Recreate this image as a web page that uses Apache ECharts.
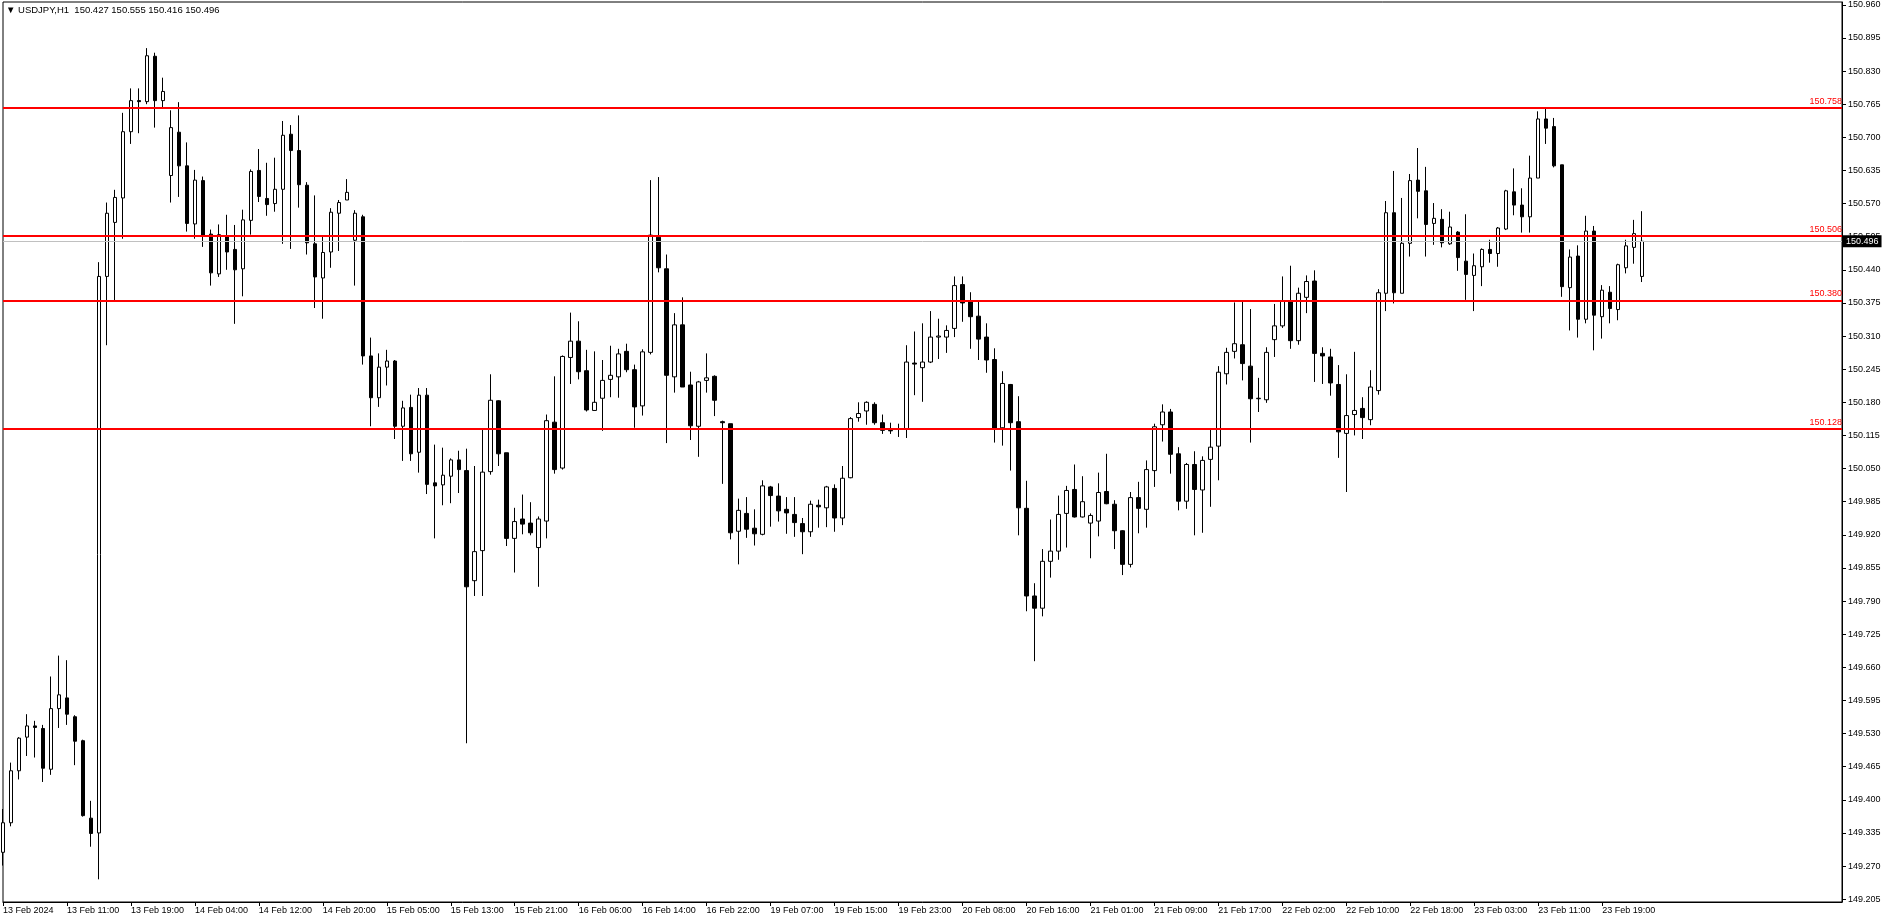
<!DOCTYPE html>
<html>
<head>
<meta charset="utf-8">
<script src="https://cdn.jsdelivr.net/npm/echarts@6/dist/echarts.min.js"></script>
<style>
html,body{margin:0;padding:0;background:#ffffff;}
#chart{width:1888px;height:923px;}
</style>
</head>
<body>
<div id="chart"></div>
<script>
// ---------- DATA ----------
const symbolTitle = '\u25BC USDJPY,H1  150.427 150.555 150.416 150.496';

const timeLabels = ['13 Feb 2024','13 Feb 11:00','13 Feb 19:00','14 Feb 04:00','14 Feb 12:00','14 Feb 20:00',
  '15 Feb 05:00','15 Feb 13:00','15 Feb 21:00','16 Feb 06:00','16 Feb 14:00','16 Feb 22:00',
  '19 Feb 07:00','19 Feb 15:00','19 Feb 23:00','20 Feb 08:00','20 Feb 16:00','21 Feb 01:00',
  '21 Feb 09:00','21 Feb 17:00','22 Feb 02:00','22 Feb 10:00','22 Feb 18:00','23 Feb 03:00',
  '23 Feb 11:00','23 Feb 19:00'];

const opens = [
149.297,149.355,149.457,149.523,149.545,149.540,149.460,149.579,149.600,149.563,
149.516,149.364,149.335,150.427,150.533,150.581,150.711,150.772,150.770,150.859,
150.772,150.625,150.710,150.644,150.530,150.615,150.510,150.432,150.507,150.480,
150.442,150.537,150.635,150.580,150.570,150.598,150.706,150.674,150.606,150.491,
150.424,150.475,150.551,150.577,150.498,150.544,150.271,150.189,150.249,150.261,
150.133,150.170,150.082,150.194,150.022,150.018,150.035,150.067,150.046,149.830,
149.889,150.044,150.183,150.081,149.913,149.951,149.943,149.895,149.947,150.141,
150.051,150.268,150.300,150.242,150.164,150.188,150.225,150.230,150.280,150.244,
150.173,150.278,150.504,150.442,150.230,150.332,150.214,150.133,150.223,150.231,
150.142,150.138,149.927,149.962,149.933,149.921,150.014,149.996,149.970,149.960,
149.942,149.926,149.978,149.973,150.011,149.953,150.032,150.150,150.163,150.176,
150.140,150.125,150.127,150.128,150.257,150.248,150.259,150.308,150.308,150.325,
150.411,150.378,150.349,150.308,150.264,150.130,150.215,150.142,149.972,149.800,
149.776,149.868,149.888,149.962,150.009,149.955,149.943,149.947,150.005,149.980,
149.928,149.862,149.993,149.970,150.046,150.136,150.161,150.079,149.986,150.058,
150.008,150.068,150.094,150.236,150.280,150.293,150.251,150.187,150.185,150.303,
150.330,150.378,150.301,150.386,150.418,150.276,150.269,150.215,150.119,150.156,
150.168,150.146,150.203,150.394,150.552,150.394,150.492,150.616,150.595,150.531,
150.539,150.491,150.514,150.457,150.429,150.446,150.480,150.472,150.520,150.593,
150.567,150.544,150.620,150.736,150.721,150.646,150.405,150.467,150.343,150.516,
150.348,150.396,150.362,150.444,150.484,150.427];

const highs = [
149.382,149.473,149.523,149.568,149.555,149.547,149.642,149.683,149.674,149.566,
149.518,149.398,150.455,150.572,150.597,150.748,150.796,150.796,150.875,150.866,
150.817,150.753,150.769,150.690,150.636,150.623,150.519,150.529,150.548,150.528,
150.558,150.637,150.677,150.650,150.660,150.732,150.724,150.743,150.612,150.586,
150.507,150.561,150.577,150.618,150.557,150.548,150.307,150.276,150.283,150.263,
150.183,150.195,150.208,150.208,150.097,150.091,150.070,150.085,150.089,150.055,
150.128,150.235,150.184,150.081,149.973,149.999,149.984,149.956,150.156,150.231,
150.272,150.356,150.339,150.283,150.280,150.263,150.291,150.285,150.295,150.254,
150.284,150.616,150.622,150.470,150.355,150.386,150.240,150.222,150.276,150.233,
150.144,150.138,149.991,149.994,149.970,150.027,150.016,150.021,149.994,149.994,
149.953,149.987,149.989,150.016,150.019,150.055,150.151,150.180,150.182,150.180,
150.156,150.140,150.138,150.292,150.319,150.335,150.359,150.344,150.331,150.427,
150.427,150.396,150.378,150.335,150.286,150.241,150.216,150.192,150.026,149.825,
149.892,149.950,149.997,150.016,150.058,150.035,149.962,150.042,150.079,149.988,
149.929,150.004,150.024,150.066,150.138,150.176,150.167,150.092,150.061,150.084,
150.074,150.127,150.251,150.287,150.376,150.378,150.363,150.228,150.288,150.373,
150.427,150.448,150.405,150.429,150.439,150.288,150.285,150.253,150.235,150.279,
150.190,150.243,150.402,150.575,150.634,150.581,150.628,150.679,150.642,150.571,
150.559,150.554,150.516,150.549,150.472,150.482,150.499,150.524,150.597,150.639,
150.600,150.664,150.751,150.757,150.738,150.646,150.480,150.488,150.546,150.526,
150.410,150.408,150.452,150.499,150.538,150.555];

const lows = [
149.271,149.348,149.440,149.486,149.483,149.435,149.449,149.541,149.547,149.468,
149.367,149.308,149.244,150.292,150.379,150.501,150.687,150.708,150.765,150.719,
150.759,150.572,150.583,150.515,150.501,150.485,150.409,150.426,150.440,150.334,
150.388,150.509,150.573,150.546,150.554,150.491,150.481,150.562,150.470,150.365,
150.344,150.444,150.477,150.577,150.409,150.254,150.133,150.171,150.213,150.108,
150.065,150.065,150.042,150.000,149.913,149.978,149.982,150.002,149.511,149.800,
149.800,150.038,150.055,149.898,149.846,149.921,149.919,149.818,149.913,150.040,
150.048,150.216,150.225,150.162,150.164,150.124,150.190,150.189,150.239,150.130,
150.154,150.274,150.435,150.100,150.199,150.210,150.106,150.073,150.199,150.153,
150.020,149.911,149.862,149.914,149.899,149.919,149.936,149.946,149.922,149.916,
149.882,149.916,149.934,149.935,149.926,149.939,150.031,150.142,150.136,150.136,
150.118,150.118,150.112,150.110,150.194,150.181,150.257,150.265,150.277,150.308,
150.338,150.285,150.263,150.238,150.101,150.095,150.046,149.919,149.770,149.672,
149.760,149.836,149.871,149.895,149.954,149.954,149.874,149.917,149.980,149.892,
149.841,149.856,149.923,149.934,150.014,150.103,150.040,149.968,149.971,149.919,
149.924,149.975,150.027,150.215,150.266,150.223,150.101,150.161,150.179,150.269,
150.326,150.285,150.293,150.355,150.220,150.216,150.193,150.071,150.004,150.115,
150.108,150.135,150.195,150.359,150.374,150.394,150.466,150.541,150.466,150.489,
150.484,150.489,150.438,150.381,150.359,150.408,150.454,150.446,150.518,150.547,
150.513,150.513,150.620,150.687,150.641,150.387,150.321,150.307,150.335,150.282,
150.305,150.335,150.341,150.433,150.452,150.416];

const closes = [
149.355,149.457,149.521,149.545,149.542,149.462,149.579,149.606,149.568,149.515,
149.369,149.334,150.427,150.551,150.582,150.711,150.772,150.770,150.860,150.772,
150.790,150.719,150.644,150.531,150.616,150.508,150.434,150.509,150.475,150.440,
150.538,150.633,150.584,150.568,150.598,150.704,150.674,150.607,150.493,150.426,
150.474,150.553,150.572,150.592,150.551,150.271,150.189,150.249,150.261,150.133,
150.169,150.079,150.194,150.019,150.016,150.037,150.067,150.048,149.818,149.887,
150.043,150.184,150.079,149.913,149.946,149.941,149.924,149.951,150.144,150.048,
150.270,150.300,150.240,150.165,150.180,150.223,150.233,150.275,150.244,150.171,
150.279,150.508,150.444,150.233,150.332,150.210,150.134,150.220,150.228,150.184,
150.140,149.924,149.968,149.931,149.922,150.016,149.997,149.967,149.963,149.944,
149.926,149.980,149.975,150.014,149.953,150.031,150.148,150.158,150.180,150.140,
150.125,150.124,150.128,150.259,150.255,150.259,150.308,150.310,150.321,150.409,
150.375,150.348,150.304,150.263,150.128,150.217,150.140,149.973,149.800,149.776,
149.868,149.888,149.960,150.007,149.955,149.985,149.958,150.003,149.981,149.928,
149.862,149.993,149.972,150.048,150.132,150.161,150.078,149.986,150.058,150.009,
150.066,150.092,150.239,150.278,150.295,150.256,150.187,150.188,150.278,150.330,
150.378,150.301,150.394,150.417,150.276,150.271,150.218,150.122,150.154,150.164,
150.150,150.210,150.395,150.552,150.395,150.492,150.615,150.594,150.529,150.541,
150.493,150.524,150.464,150.431,150.448,150.480,150.472,150.522,150.595,150.567,
150.544,150.620,150.736,150.718,150.644,150.407,150.465,150.343,150.516,150.351,
150.400,150.364,150.450,150.487,150.511,150.496];

const levelLines = [150.758, 150.506, 150.380, 150.128];
const bidPrice = 150.496;
const priceTicks = [149.205,149.270,149.335,149.400,149.465,149.530,149.595,149.660,149.725,149.790,
  149.855,149.920,149.985,150.050,150.115,150.180,150.245,150.310,150.375,150.440,
  150.505,150.570,150.635,150.700,150.765,150.830,150.895,150.960];
const slotCount = 231;   // bars + empty right shift area
const labelEvery = 8;

// ---------- BUILD ----------
const categories = Array.from({length: slotCount}, (_, i) => String(i));
const candleData = opens.map((o, i) => [o, closes[i], lows[i], highs[i]]);
const FONT = 'Liberation Sans, Arial, DejaVu Sans, sans-serif';

const markData = levelLines.map(v => {
  const txt = v.toFixed(3);
  return {
    yAxis: v,
    lineStyle: {color: '#ff0000', width: 2, type: 'solid'},
    label: {show: true, position: 'insideEndTop', distance: [0, 2], color: '#ff0000',
            fontSize: 9, fontFamily: FONT, formatter: () => txt}
  };
});
const bidTxt = bidPrice.toFixed(3);
markData.unshift({
  yAxis: bidPrice,
  lineStyle: {color: '#c0c0c0', width: 1, type: 'solid'},
  label: {show: true, position: 'end', distance: 1, color: '#ffffff', backgroundColor: '#000000',
          padding: [2, 3, 1, 3], fontSize: 9, fontFamily: FONT, formatter: () => bidTxt}
});

const chart = echarts.init(document.getElementById('chart'), null, {renderer: 'canvas'});
chart.setOption({
  animation: false,
  backgroundColor: '#ffffff',
  title: {
    text: symbolTitle, left: 6, top: 5, padding: 0,
    textStyle: {fontSize: 9.5, fontWeight: 'normal', color: '#000000', fontFamily: FONT}
  },
  grid: {left: 3, right: 46, top: 2, bottom: 21, show: true, borderColor: '#000000', borderWidth: 1,
         backgroundColor: 'transparent'},
  xAxis: {
    type: 'category', data: categories, boundaryGap: false,
    axisLine: {show: true, lineStyle: {color: '#000000', width: 1}},
    axisTick: {show: true, length: 4, lineStyle: {color: '#000000'},
               interval: (i) => i % labelEvery === 0 && i / labelEvery < timeLabels.length},
    axisLabel: {
      show: true, color: '#000000', fontSize: 9, fontFamily: FONT, align: 'left', margin: 4,
      interval: (i) => i % labelEvery === 0 && i / labelEvery < timeLabels.length,
      formatter: (v, i) => (i % labelEvery === 0 && timeLabels[i / labelEvery]) ? timeLabels[i / labelEvery] : ''
    },
    splitLine: {show: false}
  },
  yAxis: {
    type: 'value', position: 'right', min: 149.1995, max: 150.9655, scale: true,
    axisLine: {show: true, lineStyle: {color: '#000000', width: 1}},
    axisTick: {show: true, length: 4, inside: false, lineStyle: {color: '#000000'}, customValues: priceTicks},
    axisLabel: {show: true, color: '#000000', fontSize: 9, fontFamily: FONT, margin: 6,
                customValues: priceTicks, formatter: v => Number(v).toFixed(3)},
    splitLine: {show: false}
  },
  series: [{
    type: 'candlestick',
    data: candleData,
    barWidth: 4,
    clip: true,
    itemStyle: {color: '#ffffff', color0: '#000000', borderColor: '#000000', borderColor0: '#000000',
                borderColorDoji: '#000000', borderWidth: 1},
    markLine: {
      silent: true, symbol: ['none', 'none'], animation: false,
      precision: 3,
      data: markData
    }
  }]
});
</script>
</body>
</html>
